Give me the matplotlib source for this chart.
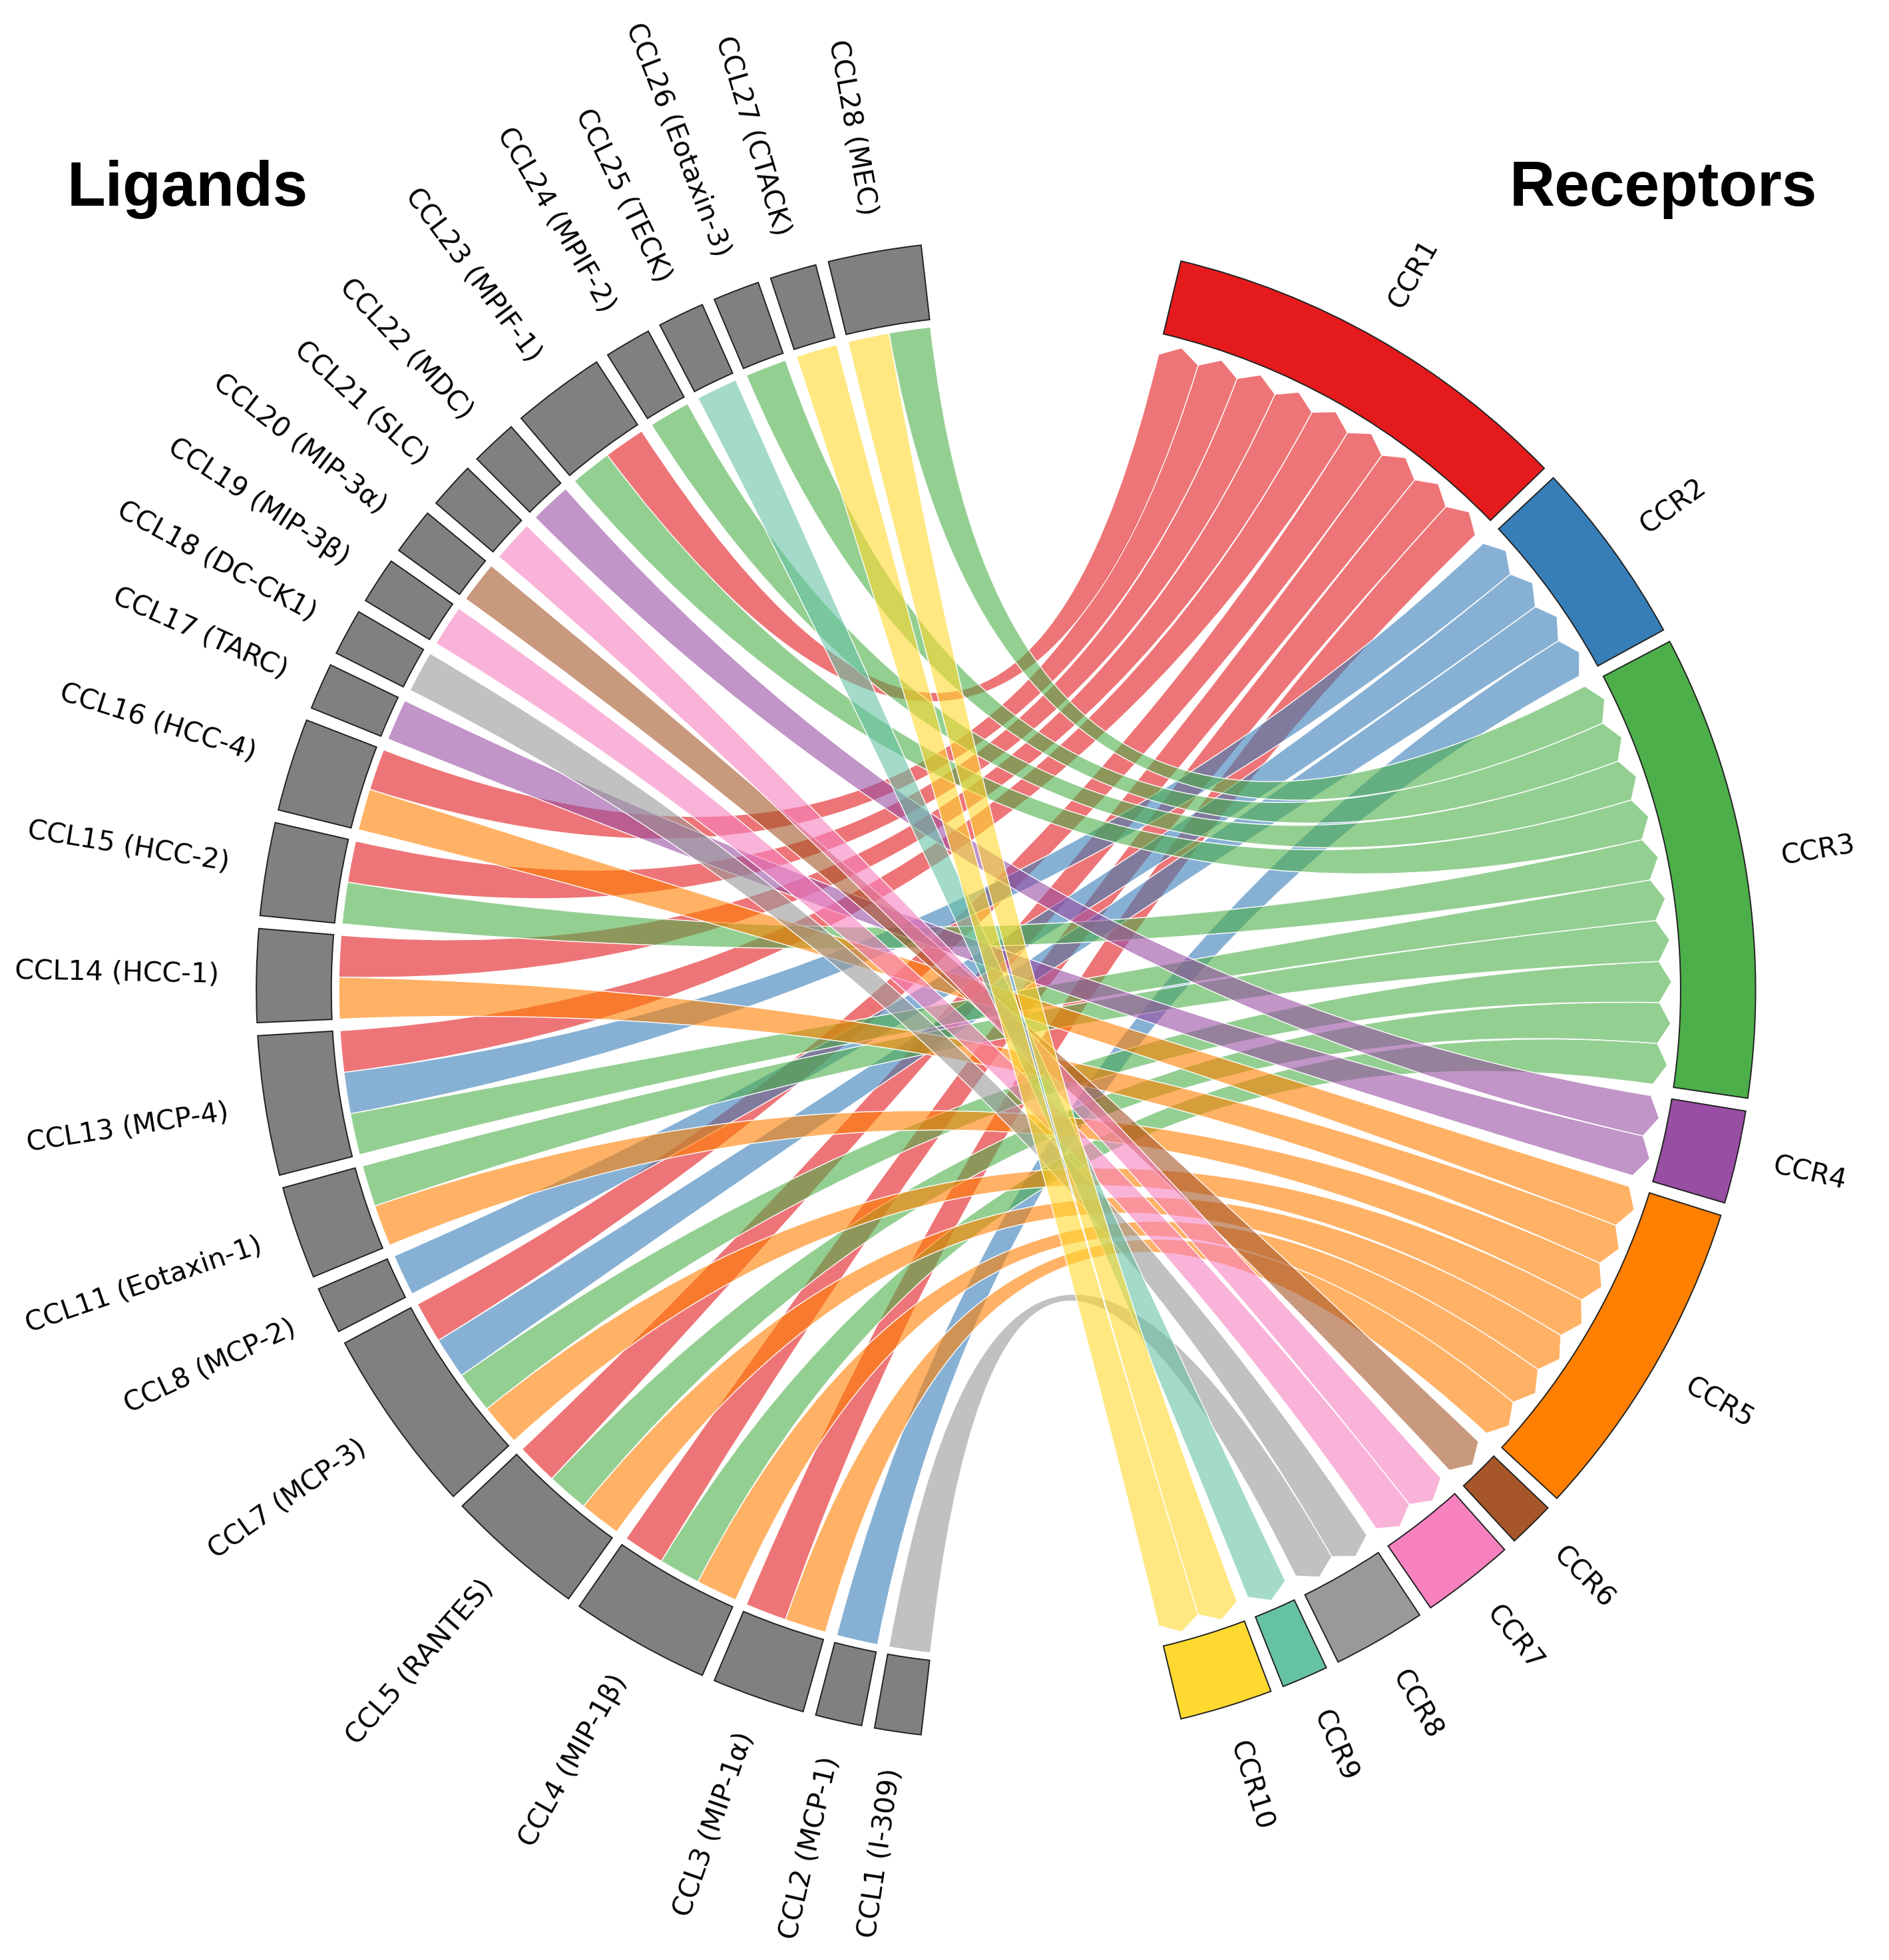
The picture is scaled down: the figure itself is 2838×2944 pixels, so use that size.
import numpy as np
import matplotlib
matplotlib.use("Agg")
import matplotlib.pyplot as plt
from matplotlib.patches import Wedge, PathPatch
from matplotlib.path import Path
from matplotlib.colors import to_rgba

# ligands, bottom (CCL1) to top (CCL28) along the left half
LIGANDS = ["CCL1", "CCL2", "CCL3", "CCL4", "CCL5", "CCL7", "CCL8", "CCL11",
           "CCL13", "CCL14", "CCL15", "CCL16", "CCL17", "CCL18", "CCL19",
           "CCL20", "CCL21", "CCL22", "CCL23", "CCL24", "CCL25", "CCL26",
           "CCL27", "CCL28"]
LIGAND_ALIASES = ["I-309", "MCP-1", "MIP-1α", "MIP-1β", "RANTES", "MCP-3",
                  "MCP-2", "Eotaxin-1", "MCP-4", "HCC-1", "HCC-2", "HCC-4",
                  "TARC", "DC-CK1", "MIP-3β", "MIP-3α", "SLC", "MDC", "MPIF-1",
                  "MPIF-2", "TECK", "Eotaxin-3", "CTACK", "MEC"]
LIGAND_RECEPTORS = [
    ["CCR8"], ["CCR2"], ["CCR1", "CCR5"], ["CCR1", "CCR3", "CCR5"],
    ["CCR1", "CCR3", "CCR5"], ["CCR1", "CCR2", "CCR3", "CCR5"], ["CCR2"],
    ["CCR3", "CCR5"], ["CCR1", "CCR2", "CCR3"], ["CCR1", "CCR5"],
    ["CCR1", "CCR3"], ["CCR1", "CCR5"], ["CCR4"], ["CCR8"], ["CCR7"],
    ["CCR6"], ["CCR7"], ["CCR4"], ["CCR1", "CCR3"], ["CCR3"], ["CCR9"],
    ["CCR3"], ["CCR10"], ["CCR3", "CCR10"],
]

RECEPTORS = ["CCR1", "CCR2", "CCR3", "CCR4", "CCR5", "CCR6", "CCR7", "CCR8",
             "CCR9", "CCR10"]
RECEPTOR_COLORS = ["#e41a1c", "#377eb8", "#4daf4a", "#984ea3", "#ff7f00",
                   "#a65628", "#f781bf", "#999999", "#66c2a5", "#ffd92f"]

GAP = 1.0          # degrees between segments
GROUP_GAP = 20.0   # degrees between ligand and receptor halves
R_OUT, R_IN = 1.0, 0.9
R_LINK = 0.89
R_SHOULDER, R_TIP = 0.872, 0.888
LABEL_SIZE = 14.8


def pol(r, deg):
    t = np.deg2rad(deg)
    return (r * np.cos(t), r * np.sin(t))


def main():
    links = [(l, r) for l, recs in zip(LIGANDS, LIGAND_RECEPTORS) for r in recs]
    n = len(links)
    n_gaps = (len(LIGANDS) - 1) + (len(RECEPTORS) - 1)
    unit = (360 - 2 * GROUP_GAP - n_gaps * GAP) / (2 * n)

    lig_count = {l: len(r) for l, r in zip(LIGANDS, LIGAND_RECEPTORS)}
    rec_count = {r: sum(1 for _, x in links if x == r) for r in RECEPTORS}

    # ligand half: CCL28 at the top, going counter-clockwise down to CCL1
    lig_span = n * unit + (len(LIGANDS) - 1) * GAP
    ang = 180 - lig_span / 2
    lig_pos = {}
    for l in LIGANDS[::-1]:
        lig_pos[l] = (ang, ang + lig_count[l] * unit)
        ang += lig_count[l] * unit + GAP

    # receptor half: CCR10 at the bottom, going counter-clockwise up to CCR1
    rec_span = n * unit + (len(RECEPTORS) - 1) * GAP
    ang = -rec_span / 2
    rec_pos = {}
    for r in RECEPTORS[::-1]:
        rec_pos[r] = (ang, ang + rec_count[r] * unit)
        ang += rec_count[r] * unit + GAP

    # slot of each link inside its ligand / receptor segment
    lig_slot = {}
    for l, recs in zip(LIGANDS, LIGAND_RECEPTORS):
        ordered = sorted(recs, key=RECEPTORS.index)
        for k, r in enumerate(ordered):
            a0 = lig_pos[l][0] + k * unit
            lig_slot[(l, r)] = (a0, a0 + unit)
    rec_slot = {}
    for r in RECEPTORS:
        ligs = sorted([l for l, x in links if x == r], key=LIGANDS.index)
        for k, l in enumerate(ligs):
            a0 = rec_pos[r][0] + k * unit
            rec_slot[(l, r)] = (a0, a0 + unit)

    fig = plt.figure(figsize=(14.19, 14.72), dpi=200)
    ax = fig.add_axes([0, 0, 1, 1])
    ax.set_xlim(-1.342, 1.178)
    ax.set_ylim(-1.294, 1.3206)
    ax.axis("off")

    # links: flat end on the ligand side, arrow head on the receptor side
    for (l, r) in links:
        la1, la2 = lig_slot[(l, r)]
        ra1, ra2 = rec_slot[(l, r)]
        arc = np.linspace(la1, la2, 20)
        verts = [pol(R_LINK, a) for a in arc]
        codes = [Path.MOVETO] + [Path.LINETO] * (len(arc) - 1)
        verts += [(0, 0), pol(R_SHOULDER, ra1)]
        codes += [Path.CURVE3, Path.CURVE3]
        verts += [pol(R_TIP, (ra1 + ra2) / 2), pol(R_SHOULDER, ra2)]
        codes += [Path.LINETO, Path.LINETO]
        verts += [(0, 0), pol(R_LINK, la1), pol(R_LINK, la1)]
        codes += [Path.CURVE3, Path.CURVE3, Path.CLOSEPOLY]
        col = RECEPTOR_COLORS[RECEPTORS.index(r)]
        ax.add_patch(PathPatch(Path(verts, codes), facecolor=to_rgba(col, 0.6),
                               edgecolor="white", linewidth=0.5, zorder=2))

    # outer ring segments and labels
    for l, alias in zip(LIGANDS, LIGAND_ALIASES):
        a1, a2 = lig_pos[l]
        ax.add_patch(Wedge((0, 0), R_OUT, a1, a2, width=R_OUT - R_IN,
                           facecolor="#808080", edgecolor="#222222",
                           linewidth=0.7, zorder=3))
        mid = (a1 + a2) / 2
        x, y = pol(1.05, mid)
        ax.text(x, y, f"{l} ({alias})", rotation=mid - 180, rotation_mode="anchor",
                ha="right", va="center", fontsize=LABEL_SIZE)

    for r, col in zip(RECEPTORS, RECEPTOR_COLORS):
        a1, a2 = rec_pos[r]
        ax.add_patch(Wedge((0, 0), R_OUT, a1, a2, width=R_OUT - R_IN,
                           facecolor=col, edgecolor="#222222",
                           linewidth=0.7, zorder=3))
        mid = (a1 + a2) / 2
        x, y = pol(1.05, mid)
        ax.text(x, y, r, rotation=mid, rotation_mode="anchor",
                ha="left", va="center", fontsize=LABEL_SIZE)

    fig.text(0.0355, 0.895, "Ligands", fontsize=34, fontweight="bold",
             family="Liberation Sans", ha="left", va="baseline")
    fig.text(0.962, 0.895, "Receptors", fontsize=34, fontweight="bold",
             family="Liberation Sans", ha="right", va="baseline")

    fig.savefig("out.png", dpi=200)
    plt.close(fig)


if __name__ == "__main__":
    main()
